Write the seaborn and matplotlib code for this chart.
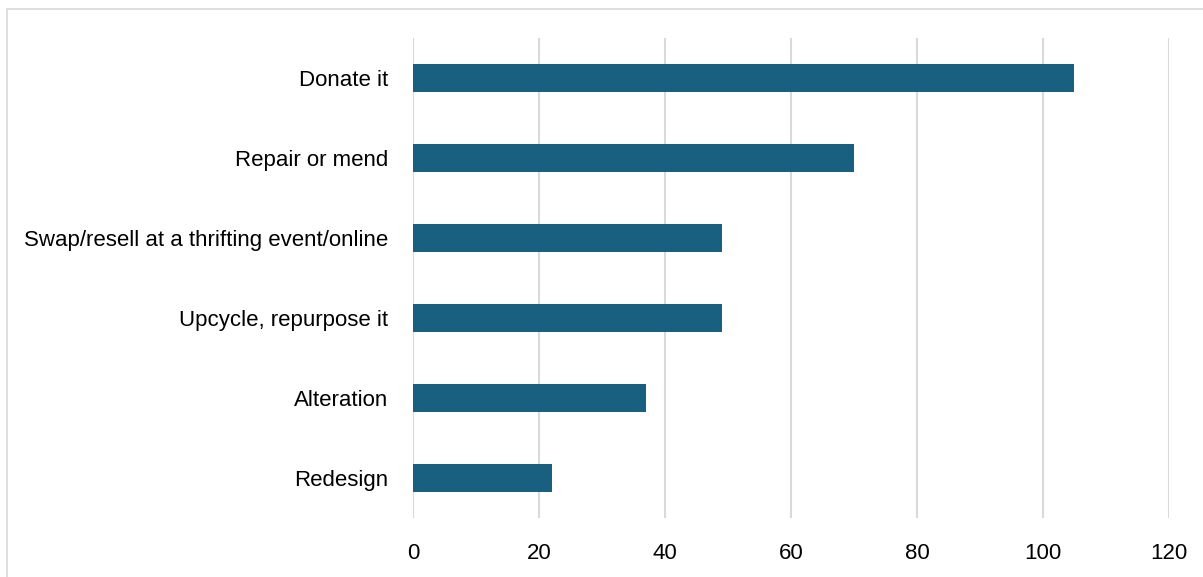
import matplotlib
matplotlib.use("Agg")
import matplotlib.pyplot as plt
import matplotlib.patches as mpatches
import seaborn as sns
import pandas as pd

categories = ["Donate it", "Repair or mend", "Swap/resell at a thrifting event/online",
              "Upcycle, repurpose it", "Alteration", "Redesign"]
values = [105, 70, 49, 49, 37, 22]
xticks = [0, 20, 40, 60, 80, 100, 120]

df = pd.DataFrame({"option": categories, "count": values})

sns.set_style("white")
plt.rcParams["font.family"] = ["Liberation Sans Narrow", "Liberation Sans", "DejaVu Sans"]

fig = plt.figure(figsize=(12.03, 5.77), dpi=100)
ax = fig.add_axes([0.3433, 0.1023, 0.6284, 0.8317])

sns.barplot(data=df, x="count", y="option", color="#185F80", width=0.35,
            saturation=1, ax=ax, zorder=3, linewidth=0)

ax.set_xlim(0, 120)
ax.set_ylim(5.5, -0.5)
ax.set_xticks(xticks)
ax.xaxis.grid(True, color="#D9D9D9", linewidth=1.5, zorder=0)
ax.set_axisbelow(True)
for s in ax.spines.values():
    s.set_visible(False)
ax.tick_params(axis="x", length=0, pad=18, labelsize=16, labelcolor="black")
ax.tick_params(axis="y", length=0, pad=18, labelsize=16, labelcolor="black")
ax.set_xlabel("")
ax.set_ylabel("")

# light frame round the chart (runs off the right and bottom edges)
fig.patches.append(mpatches.Rectangle((7 / 1203, -0.05), 1.1, 1 - 9 / 577 + 0.05,
                                      transform=fig.transFigure, fill=False,
                                      edgecolor="#D9D9D9", linewidth=1.2))

fig.savefig("out.png", dpi=100)
